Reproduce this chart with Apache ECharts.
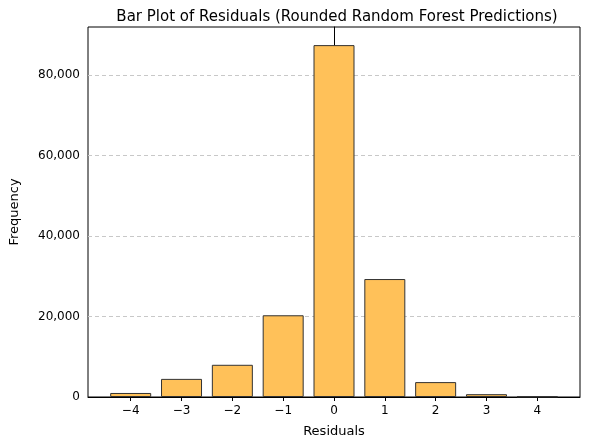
<!DOCTYPE html>
<html>
<head>
<meta charset="utf-8">
<script src="https://cdn.jsdelivr.net/npm/echarts@6/dist/echarts.min.js"></script>
<style>
    html, body { margin: 0; padding: 0; background: #fff; }
    #chart { width: 591px; height: 447px; }
</style>
</head>
<body>
<div id="chart"></div>
<script>
    var residuals = [-4, -3, -2, -1, 0, 1, 2, 3, 4];
    var frequency = [1000, 4500, 8000, 20300, 87400, 29300, 3700, 700, 100];
    var xTicks = [-4, -3, -2, -1, 0, 1, 2, 3, 4];
    var yTicks = [0, 20000, 40000, 60000, 80000];

    var chart = echarts.init(document.getElementById('chart'), null, {renderer: 'canvas'});
    var font = 'DejaVu Sans';

    chart.setOption({
        animation: false,
        textStyle: {fontFamily: font},
        title: {
            text: 'Bar Plot of Residuals (Rounded Random Forest Predictions)',
            left: 332, top: 5, textAlign: 'center',
            textStyle: {fontFamily: font, fontSize: 15, fontWeight: 'normal', color: '#000'}
        },
        grid: {left: 84, right: 11, top: 27, bottom: 50, show: true, borderColor: '#000', borderWidth: 1},
        xAxis: {
            type: 'value', min: -4.84, max: 4.84,
            name: 'Residuals', nameLocation: 'middle', nameGap: 28,
            nameTextStyle: {fontFamily: font, fontSize: 13, color: '#000'},
            axisLine: {show: true, lineStyle: {color: '#000'}},
            axisTick: {show: true, customValues: xTicks, length: 4, lineStyle: {color: '#000'}},
            axisLabel: {
                customValues: xTicks, color: '#000', fontSize: 12,
                formatter: function (v) { return v < 0 ? '\u2212' + (-v) : String(v); }
            },
            splitLine: {show: false}
        },
        yAxis: {
            type: 'value', min: 0, max: 91900,
            name: 'Frequency', nameLocation: 'middle', nameGap: 67,
            nameTextStyle: {fontFamily: font, fontSize: 13, color: '#000'},
            axisLine: {show: true, lineStyle: {color: '#000'}},
            axisTick: {show: true, customValues: yTicks, length: 4, lineStyle: {color: '#000'}},
            axisLabel: {customValues: yTicks, color: '#000', fontSize: 12},
            splitLine: {show: true, lineStyle: {color: '#c8c8c8', type: [4, 3]}}
        },
        series: [{
            type: 'bar',
            data: residuals.map(function (r, i) { return [r, frequency[i]]; }),
            barWidth: 41,
            itemStyle: {color: 'rgb(255,193,89)', borderColor: '#333', borderWidth: 1}
        }]
    });
</script>
</body>
</html>
